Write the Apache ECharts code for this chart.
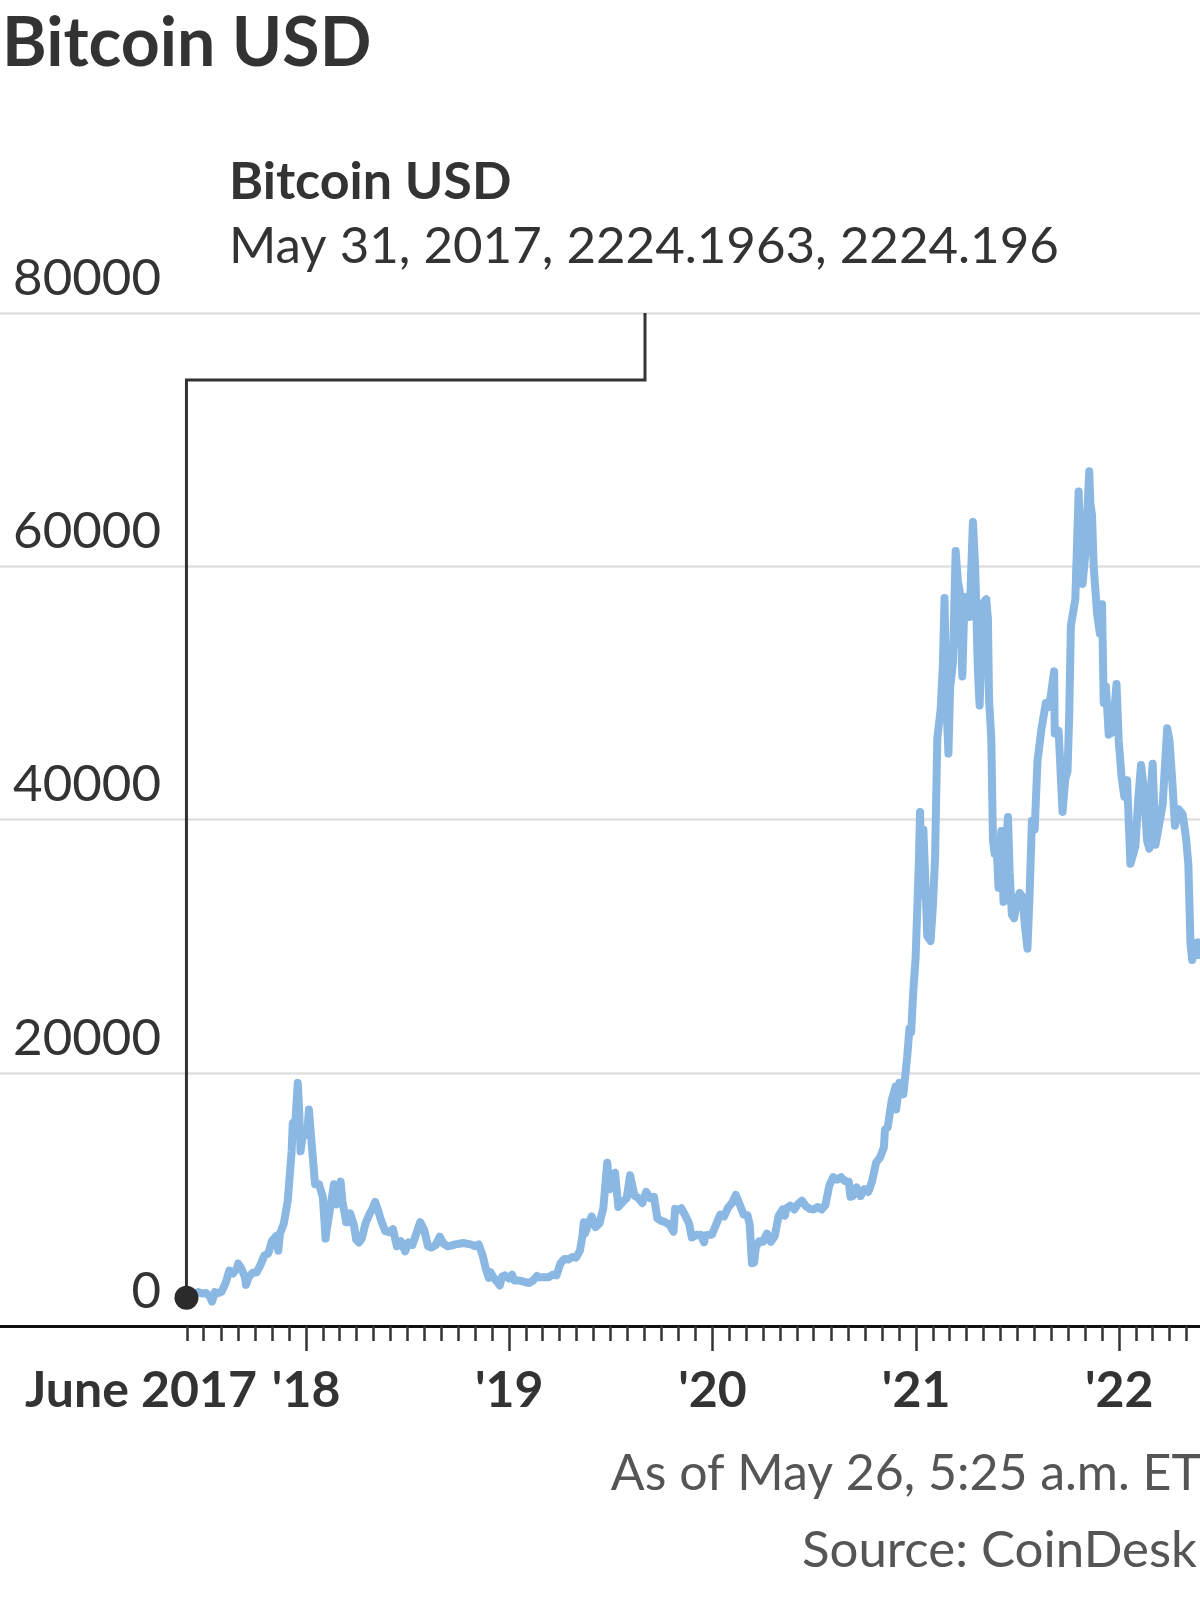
<!DOCTYPE html>
<html>
<head>
<meta charset="utf-8">
<script src="https://cdn.jsdelivr.net/npm/echarts@6/dist/echarts.min.js"></script>
<style>
  html, body { margin: 0; padding: 0; background: #ffffff; }
  #chart { width: 1200px; height: 1600px; }
</style>
</head>
<body>
<div id="chart"></div>
<script>
// ---------- DATA ----------
const titleText = 'Bitcoin USD';
const seriesName = 'Bitcoin USD';
const annotationText = 'May 31, 2017, 2224.1963, 2224.196';
const asOfText = 'As of May 26, 5:25 a.m. ET';
const sourceText = 'Source: CoinDesk';

const yTicks = [0, 20000, 40000, 60000, 80000];
const yearTickDates = ['2018-01-01', '2019-01-01', '2020-01-01', '2021-01-01', '2022-01-01'];
const xLabelDates = ['2017-06-01', '2018-01-01', '2019-01-01', '2020-01-01', '2021-01-01', '2022-01-01'];
const xLabelTexts = ['June 2017', "'18", "'19", "'20", "'21", "'22"];
const axisStart = '2016-06-30';
const axisEnd = '2022-05-26';

const btc2017 = [
  ['2017-05-31', 2224.1963], ['2017-06-07', 2700], ['2017-06-14', 2450], ['2017-06-21', 2680],
  ['2017-06-28', 2570], ['2017-07-05', 2600], ['2017-07-12', 2330], ['2017-07-16', 1930],
  ['2017-07-21', 2680], ['2017-07-26', 2580], ['2017-08-02', 2700], ['2017-08-09', 3350],
  ['2017-08-16', 4380], ['2017-08-23', 4150], ['2017-08-30', 4580], ['2017-09-01', 4920],
  ['2017-09-06', 4600], ['2017-09-13', 3870], ['2017-09-15', 3250], ['2017-09-20', 3900],
  ['2017-09-27', 4200], ['2017-10-04', 4220], ['2017-10-11', 4830], ['2017-10-18', 5560],
  ['2017-10-25', 5730], ['2017-11-01', 6750], ['2017-11-08', 7100], ['2017-11-12', 5950],
  ['2017-11-15', 7300], ['2017-11-22', 8100], ['2017-11-29', 9900], ['2017-12-06', 13800],
  ['2017-12-08', 16000], ['2017-12-13', 16300], ['2017-12-17', 19200], ['2017-12-20', 16500],
  ['2017-12-22', 13800], ['2017-12-27', 15400]
];
const btc2018 = [
  ['2018-01-03', 15100], ['2018-01-06', 17100], ['2018-01-10', 14900], ['2018-01-17', 11200],
  ['2018-01-24', 11200], ['2018-01-31', 10200], ['2018-02-05', 6900], ['2018-02-07', 7600],
  ['2018-02-14', 9500], ['2018-02-20', 11200], ['2018-02-25', 9600], ['2018-03-04', 11400],
  ['2018-03-07', 9900], ['2018-03-14', 8200], ['2018-03-18', 8200], ['2018-03-21', 8900],
  ['2018-03-28', 7950], ['2018-04-01', 6800], ['2018-04-06', 6600], ['2018-04-11', 6900],
  ['2018-04-18', 8150], ['2018-04-25', 8850], ['2018-04-30', 9250], ['2018-05-05', 9800],
  ['2018-05-09', 9300], ['2018-05-16', 8300], ['2018-05-23', 7500], ['2018-05-30', 7400],
  ['2018-06-06', 7650], ['2018-06-13', 6300], ['2018-06-20', 6700], ['2018-06-28', 5900],
  ['2018-07-04', 6600], ['2018-07-11', 6400], ['2018-07-18', 7300], ['2018-07-25', 8200],
  ['2018-08-01', 7600], ['2018-08-08', 6300], ['2018-08-14', 6200], ['2018-08-22', 6400],
  ['2018-08-29', 7050], ['2018-09-05', 6500], ['2018-09-12', 6300], ['2018-09-19', 6350],
  ['2018-09-26', 6450], ['2018-10-03', 6500], ['2018-10-10', 6550], ['2018-10-17', 6500],
  ['2018-10-24', 6450], ['2018-10-31', 6300], ['2018-11-07', 6450], ['2018-11-14', 5600],
  ['2018-11-20', 4500], ['2018-11-25', 3800], ['2018-11-28', 4250], ['2018-12-05', 3750],
  ['2018-12-12', 3400], ['2018-12-15', 3200], ['2018-12-19', 3900], ['2018-12-24', 4000],
  ['2018-12-31', 3750]
];
const btc2019 = [
  ['2019-01-06', 4050], ['2019-01-10', 3600], ['2019-01-16', 3600], ['2019-01-23', 3550],
  ['2019-01-30', 3450], ['2019-02-06', 3400], ['2019-02-13', 3600], ['2019-02-20', 3950],
  ['2019-02-24', 3850], ['2019-03-06', 3850], ['2019-03-13', 3850], ['2019-03-20', 4050],
  ['2019-03-27', 4000], ['2019-04-03', 4950], ['2019-04-10', 5300], ['2019-04-17', 5250],
  ['2019-04-24', 5450], ['2019-05-01', 5400], ['2019-05-08', 5950], ['2019-05-12', 7000],
  ['2019-05-15', 8200], ['2019-05-17', 7300], ['2019-05-22', 7900], ['2019-05-29', 8650],
  ['2019-06-05', 7800], ['2019-06-12', 8100], ['2019-06-19', 9300], ['2019-06-26', 12900],
  ['2019-06-30', 10800], ['2019-07-03', 11900], ['2019-07-10', 12100], ['2019-07-16', 9400],
  ['2019-07-24', 9800], ['2019-07-31', 10100], ['2019-08-06', 11900], ['2019-08-14', 10300],
  ['2019-08-21', 10100], ['2019-08-28', 9700], ['2019-09-04', 10600], ['2019-09-11', 10100],
  ['2019-09-18', 10200], ['2019-09-24', 8500], ['2019-10-01', 8300], ['2019-10-08', 8200],
  ['2019-10-16', 8000], ['2019-10-23', 7450], ['2019-10-26', 9250], ['2019-10-30', 9150],
  ['2019-11-06', 9300], ['2019-11-13', 8750], ['2019-11-20', 8100], ['2019-11-25', 7000],
  ['2019-12-04', 7200], ['2019-12-11', 7200], ['2019-12-17', 6600], ['2019-12-19', 7150],
  ['2019-12-25', 7200], ['2019-12-31', 7200]
];
const btc2020 = [
  ['2020-01-08', 8050], ['2020-01-15', 8800], ['2020-01-22', 8650], ['2020-01-29', 9350],
  ['2020-02-05', 9700], ['2020-02-12', 10350], ['2020-02-19', 9600], ['2020-02-26', 8800],
  ['2020-03-04', 8750], ['2020-03-08', 8000], ['2020-03-11', 7900], ['2020-03-12', 4950],
  ['2020-03-16', 5000], ['2020-03-19', 6200], ['2020-03-25', 6700], ['2020-04-01', 6650],
  ['2020-04-08', 7300], ['2020-04-15', 6650], ['2020-04-22', 7100], ['2020-04-29', 8700],
  ['2020-05-06', 9200], ['2020-05-10', 8700], ['2020-05-13', 9300], ['2020-05-20', 9500],
  ['2020-05-27', 9200], ['2020-06-03', 9650], ['2020-06-10', 9900], ['2020-06-17', 9450],
  ['2020-06-24', 9250], ['2020-07-01', 9200], ['2020-07-08', 9400], ['2020-07-15', 9200],
  ['2020-07-22', 9550], ['2020-07-29', 11100], ['2020-08-05', 11750], ['2020-08-12', 11550],
  ['2020-08-19', 11750], ['2020-08-26', 11450], ['2020-09-02', 11400], ['2020-09-05', 10200],
  ['2020-09-09', 10250], ['2020-09-16', 10950], ['2020-09-23', 10250], ['2020-09-30', 10800],
  ['2020-10-07', 10600], ['2020-10-14', 11450], ['2020-10-21', 12900], ['2020-10-28', 13300],
  ['2020-11-04', 14100], ['2020-11-06', 15500], ['2020-11-11', 15700], ['2020-11-18', 17800],
  ['2020-11-25', 18900], ['2020-11-26', 17100], ['2020-12-02', 19200], ['2020-12-09', 18300],
  ['2020-12-16', 21300], ['2020-12-20', 23500], ['2020-12-23', 23200], ['2020-12-27', 26500],
  ['2020-12-31', 29000]
];
const btc2021 = [
  ['2021-01-03', 32900], ['2021-01-06', 36800], ['2021-01-08', 40600], ['2021-01-11', 34000],
  ['2021-01-14', 39200], ['2021-01-17', 35800], ['2021-01-21', 30800], ['2021-01-27', 30400],
  ['2021-01-31', 33100], ['2021-02-04', 36900], ['2021-02-08', 46400], ['2021-02-14', 48700],
  ['2021-02-18', 52100], ['2021-02-21', 57500], ['2021-02-24', 49700], ['2021-02-28', 45200],
  ['2021-03-03', 50400], ['2021-03-08', 52300], ['2021-03-13', 61200], ['2021-03-17', 58800],
  ['2021-03-20', 58100], ['2021-03-25', 51300], ['2021-03-29', 57600], ['2021-04-03', 57100],
  ['2021-04-07', 56000], ['2021-04-13', 63500], ['2021-04-17', 60000], ['2021-04-22', 51700],
  ['2021-04-25', 49000], ['2021-04-29', 53600], ['2021-05-03', 57200], ['2021-05-07', 57400],
  ['2021-05-10', 55800], ['2021-05-12', 49500], ['2021-05-16', 46400], ['2021-05-19', 38400],
  ['2021-05-22', 37300], ['2021-05-25', 38400], ['2021-05-29', 34600], ['2021-06-03', 39100],
  ['2021-06-07', 33500], ['2021-06-13', 39000], ['2021-06-15', 40200], ['2021-06-18', 35800],
  ['2021-06-22', 32500], ['2021-06-26', 32200], ['2021-07-01', 33600], ['2021-07-06', 34200],
  ['2021-07-11', 33900], ['2021-07-15', 31800], ['2021-07-20', 29800], ['2021-07-24', 34300],
  ['2021-07-28', 39900], ['2021-08-02', 39200], ['2021-08-07', 44600], ['2021-08-14', 47100],
  ['2021-08-22', 49200], ['2021-08-28', 48900], ['2021-09-06', 51700], ['2021-09-07', 46800],
  ['2021-09-14', 47000], ['2021-09-21', 40600], ['2021-09-26', 43200], ['2021-09-30', 43800],
  ['2021-10-03', 48200], ['2021-10-06', 55300], ['2021-10-14', 57400], ['2021-10-20', 65900],
  ['2021-10-23', 61300], ['2021-10-27', 58600], ['2021-11-01', 61000], ['2021-11-08', 67500],
  ['2021-11-10', 65000], ['2021-11-13', 64000], ['2021-11-16', 60000], ['2021-11-22', 56300],
  ['2021-11-27', 54700], ['2021-12-01', 57000], ['2021-12-04', 49200], ['2021-12-08', 50500],
  ['2021-12-13', 46700], ['2021-12-20', 46900], ['2021-12-27', 50700], ['2021-12-31', 46200]
];
const btc2022 = [
  ['2022-01-05', 43400], ['2022-01-10', 41800], ['2022-01-15', 43100], ['2022-01-21', 36500],
  ['2022-01-24', 36600], ['2022-01-30', 37900], ['2022-02-04', 41600], ['2022-02-09', 44300],
  ['2022-02-14', 42500], ['2022-02-20', 38300], ['2022-02-24', 37700], ['2022-02-28', 43200],
  ['2022-03-02', 44400], ['2022-03-07', 38000], ['2022-03-14', 39700], ['2022-03-20', 41200],
  ['2022-03-28', 47200], ['2022-04-01', 46300], ['2022-04-06', 43200], ['2022-04-11', 39500],
  ['2022-04-18', 40800], ['2022-04-25', 40400], ['2022-05-01', 38500], ['2022-05-05', 36500],
  ['2022-05-09', 30100], ['2022-05-12', 28900], ['2022-05-17', 30200], ['2022-05-22', 30300],
  ['2022-05-26', 29000]
];

// ---------- BUILD ----------
function ts(s) { const p = s.split('-').map(Number); return Date.UTC(p[0], p[1] - 1, p[2]); }
const series = [].concat(btc2017, btc2018, btc2019, btc2020, btc2021, btc2022).map(d => [ts(d[0]), d[1]]);
const firstPoint = series[0];

const xMin = ts(axisStart), xMax = ts(axisEnd);
const monthTicks = [];
for (let y = 2017; y <= 2022; y++) {
  for (let m = 0; m < 12; m++) {
    const t = Date.UTC(y, m, 1);
    if (t >= ts('2017-06-01') && t <= xMax) monthTicks.push(t);
  }
}
const yearTicks = yearTickDates.map(ts);
const labelTicks = xLabelDates.map(ts);
const labelMap = {};
labelTicks.forEach((t, i) => { labelMap[t] = xLabelTexts[i]; });

const FONT = 'Lato';
const DARK = '#333333';

const chart = echarts.init(document.getElementById('chart'), null, { renderer: 'canvas' });
const option = {
  backgroundColor: '#ffffff',
  animation: false,
  grid: { left: 0, right: 0, top: 313, bottom: 274, containLabel: false },
  xAxis: [
    {
      type: 'value', min: xMin, max: xMax, scale: true,
      axisLine: { show: true, onZero: false, lineStyle: { color: '#111111', width: 3 } },
      axisTick: { show: true, customValues: monthTicks, length: 15, lineStyle: { color: DARK, width: 2.5 } },
      axisLabel: { show: false },
      splitLine: { show: false }
    },
    {
      type: 'value', min: xMin, max: xMax, scale: true, position: 'bottom',
      axisLine: { show: false, onZero: false },
      axisTick: { show: true, customValues: yearTicks, length: 25, lineStyle: { color: DARK, width: 2.5 } },
      axisLabel: {
        show: true, customValues: labelTicks, margin: 40,
        fontFamily: FONT, fontSize: 50, fontWeight: 'bold', color: DARK,
        formatter: function (v) {
          const t = labelMap[v] !== undefined ? labelMap[v] : '';
          return v === labelTicks[0] ? '{first|' + t + '}' : t;
        },
        rich: {
          first: { fontFamily: FONT, fontSize: 50, fontWeight: 'bold', color: DARK, padding: [0, 92, 0, 0] }
        }
      },
      splitLine: { show: false }
    }
  ],
  yAxis: {
    type: 'value', min: 0, max: 80000, interval: 20000,
    axisLine: { show: false }, axisTick: { show: false },
    splitLine: { show: true, lineStyle: { color: '#e0e0e0', width: 2.5 } },
    axisLabel: {
      inside: true, margin: 161, align: 'right', verticalAlign: 'bottom',
      padding: [0, 0, 9, 0],
      fontFamily: FONT, fontSize: 51, color: DARK,
      formatter: function (v) { return yTicks.indexOf(v) >= 0 ? String(v) : ''; }
    }
  },
  series: [
    {
      name: seriesName, type: 'line', xAxisIndex: 0, data: series,
      showSymbol: false, symbol: 'none',
      lineStyle: { color: '#8ab8e2', width: 8, join: 'round' },
      z: 3
    },
    {
      name: 'start', type: 'scatter', xAxisIndex: 0, data: [firstPoint],
      symbol: 'circle', symbolSize: 24, itemStyle: { color: '#2b2b2b', opacity: 1 }, z: 6, silent: true
    }
  ]
};
chart.setOption(option);

// annotation leader and texts
const p0 = chart.convertToPixel({ xAxisIndex: 0, yAxisIndex: 0 }, firstPoint);
const topY = chart.convertToPixel({ yAxisIndex: 0 }, 80000);
const elbowY = 380, elbowX = 645;
chart.setOption({
  graphic: [
    {
      type: 'polyline', z: 5, silent: true,
      shape: { points: [[p0[0], p0[1]], [p0[0], elbowY], [elbowX, elbowY], [elbowX, topY]] },
      style: { stroke: DARK, lineWidth: 3, fill: null }
    },
    { type: 'text', x: 2, y: 44, z: 10, style: { text: titleText, font: 'bold 68px ' + FONT, fill: DARK, textAlign: 'left', textVerticalAlign: 'middle' } },
    { type: 'text', x: 229, y: 182, z: 10, style: { text: seriesName, font: 'bold 52px ' + FONT, fill: DARK, textAlign: 'left', textVerticalAlign: 'middle' } },
    { type: 'text', x: 229, y: 247, z: 10, style: { text: annotationText, font: '51px ' + FONT, fill: DARK, textAlign: 'left', textVerticalAlign: 'middle' } },
    { type: 'text', x: 1201, y: 1474, z: 10, style: { text: asOfText, font: '50px ' + FONT, fill: '#555555', textAlign: 'right', textVerticalAlign: 'middle' } },
    { type: 'text', x: 1197, y: 1551, z: 10, style: { text: sourceText, font: '51px ' + FONT, fill: '#555555', textAlign: 'right', textVerticalAlign: 'middle' } }
  ]
});
</script>
</body>
</html>
